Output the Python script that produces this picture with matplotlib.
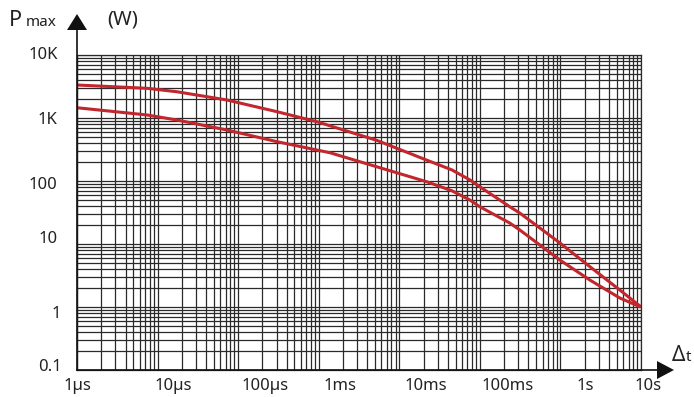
import numpy as np
import matplotlib.pyplot as plt
from matplotlib.lines import Line2D
from matplotlib.patches import Polygon
from matplotlib.transforms import ScaledTranslation

plt.rcParams['font.family'] = ['Noto Sans', 'DejaVu Sans']

# pulse width (s) vs peak pulse power (W)
t_upper = [1e-6, 7.4e-6, 1.74e-5, 7.26e-5, 3.03e-4, 9.5e-4, 5.3e-3, 0.0218, 0.045, 0.0752, 0.1, 0.2355, 0.313, 0.984, 2.32, 5.46, 9.66]
p_upper = [3340, 2960, 2610, 1930, 1260, 873, 440, 215, 150, 104, 81, 39, 31, 10.4, 4.37, 1.86, 1.04]

t_lower = [1e-6, 7.4e-6, 1.74e-5, 7.26e-5, 3.03e-4, 1.38e-3, 5.27e-3, 0.0218, 0.045, 0.0752, 0.1, 0.2355, 0.313, 0.984, 2.32, 5.46, 9.66]
p_lower = [1455, 1117, 929, 645, 421, 281, 168, 97.5, 70, 49.9, 39, 21.5, 16.7, 5.57, 2.68, 1.39, 1.01]

x_ticks = [1e-6, 1e-5, 1e-4, 1e-3, 1e-2, 1e-1, 1, 10]
x_labels = ['1µs', '10µs', '100µs', '1ms', '10ms', '100ms', '1s', '10s']
y_ticks = [0.1, 1, 10, 100, 1000, 10000]
y_labels = ['0.1', '1', '10', '100', '1K', '10K']

W, H = 694, 397
fig = plt.figure(figsize=(W / 100, H / 100), dpi=100)
ax = fig.add_axes([77 / W, 1 - 370 / H, (641 - 77) / W, (370 - 55) / H])

ax.set_xscale('log')
ax.set_yscale('log')
ax.set_xlim(1e-6, 10)
ax.set_ylim(0.1, 1e4)
ax.grid(True, which='both', color='#2a2a2a', lw=0.9)
ax.set_axisbelow(True)
ax.patch.set_alpha(0)
for s in ax.spines.values():
    s.set_color('#2a2a2a')
    s.set_linewidth(0.9)

red = '#c1272d'
ax.plot(t_upper, p_upper, color=red, lw=2.2, solid_capstyle='round')
ax.plot(t_lower, p_lower, color=red, lw=2.2, solid_capstyle='round')

ax.set_xticks(x_ticks)
ax.set_xticklabels(x_labels)
ax.set_yticks(y_ticks)
ax.set_yticklabels(y_labels)
ax.xaxis.set_minor_formatter(plt.NullFormatter())
ax.yaxis.set_minor_formatter(plt.NullFormatter())
ax.tick_params(which='both', length=0)
ax.tick_params(axis='x', pad=6, labelsize=12, colors='#222222')
ax.tick_params(axis='y', pad=14, labelsize=12, colors='#222222')

# nudge the labels the way the printed sheet places them (pixels)
x_shift = [0, 16, 27, 21, 27, 28, 25, 7]
for lab, dx in zip(ax.get_xticklabels(), x_shift):
    lab.set_transform(lab.get_transform() + ScaledTranslation(dx / 100, 0, fig.dpi_scale_trans))
y_shift = [(4, 5), (3, -5), (0, 7), (0, -2), (0, 0), (0, 2)]
for lab, (dx, dy) in zip(ax.get_yticklabels(), y_shift):
    lab.set_transform(lab.get_transform() + ScaledTranslation(dx / 100, dy / 100, fig.dpi_scale_trans))


def fx(px):
    return px / W


def fy(py):
    return 1 - py / H


# axis arrows
fig.add_artist(Line2D([fx(77), fx(77)], [fy(370), fy(30)], color='#111111', lw=1.2))
fig.add_artist(Line2D([fx(77), fx(658)], [fy(370), fy(370)], color='#111111', lw=1.2))
fig.add_artist(Polygon([[fx(67), fy(30)], [fx(87), fy(30)], [fx(77), fy(14)]], closed=True, color='#111111', lw=0))
fig.add_artist(Polygon([[fx(657), fy(361)], [fx(657), fy(379)], [fx(674), fy(370)]], closed=True, color='#111111', lw=0))

fig.text(fx(9), fy(26), 'P', fontsize=15.5, color='#222222', ha='left', va='baseline')
fig.text(fx(26), fy(26), 'max', fontsize=11, color='#222222', ha='left', va='baseline')
fig.text(fx(107), fy(19), '(W)', fontsize=14.5, color='#222222', ha='left', va='center')
fig.text(fx(672), fy(361), 'Δ', fontsize=15, color='#222222', ha='left', va='baseline')
fig.text(fx(686), fy(361), 't', fontsize=11, color='#222222', ha='left', va='baseline')

fig.savefig('out.png', dpi=100)
